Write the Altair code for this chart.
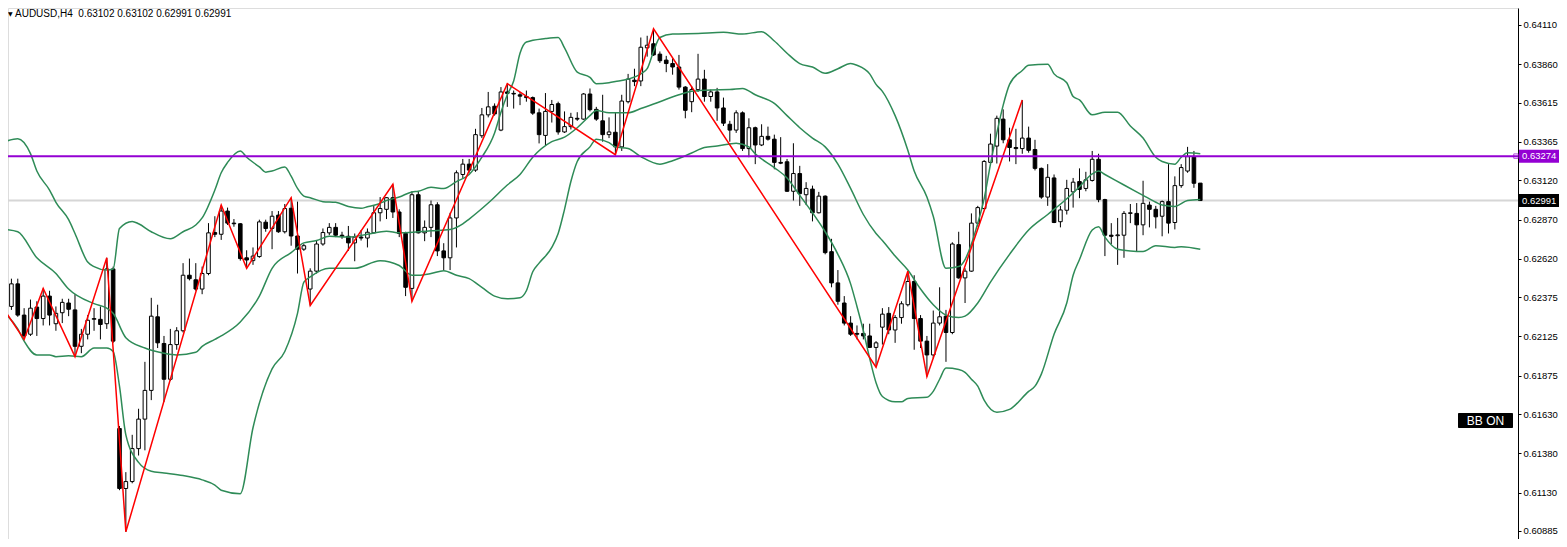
import altair as alt
import pandas as pd

# ---- AUDUSD H4 candles, prices in points (1e-5) ----
OPEN_PTS = [62466,62316,62460,62261,62139,62312,62239,62382,62206,62276,62338,62294,62062,62139,62234,62234,62206,62555,61538,61156,
61200,61410,61598,61781,62250,62080,61852,62073,62161,62515,62486,62427,62526,62787,62776,62924,62847,62843,62626,62608,
62634,62853,62813,62898,62792,62942,62765,62681,62427,62541,62714,62785,62820,62770,62763,62721,62758,62752,62785,62913,
62935,63009,62918,62781,62431,63028,62785,62820,62964,62670,62626,62880,63157,63223,63185,63404,63537,63592,63440,63683,
63674,63665,63654,63647,63550,63406,63559,63608,63428,63462,63515,63510,63670,63572,63499,63411,63426,63333,63621,63758,
63753,63964,63990,63924,63886,63864,63842,63714,63621,63698,63765,63654,63683,63581,63477,63440,63550,63322,63455,63345,
63400,63382,63234,63238,63050,63163,63028,63064,62913,63019,62665,62466,62338,62210,62144,62144,62128,62055,62184,62272,
62166,62245,62327,62475,62239,62095,62007,62210,62254,62150,62710,62498,62541,62847,62940,63234,63338,63510,63378,63329,
63322,63389,63316,63196,63013,63135,62856,62929,63046,63112,63068,63119,63254,62997,62770,62767,62770,62909,62909,62836,
62962,62935,62891,62984,62851,63086,63179,63267,63102]
HIGH_PTS = [62559,62493,62493,62305,62360,62349,62431,62416,62316,62365,62365,62394,62173,62261,62305,62316,62626,62570,61554,61260,
61498,61664,61963,62371,62327,62128,62173,62184,62592,62621,62592,62570,62847,62891,62962,62946,62873,62847,62674,62692,
62869,62869,62924,62924,62969,63009,62984,62714,62559,62736,62813,62847,62847,62792,62829,62781,62803,62813,62957,63013,
63013,63095,62935,62792,63050,63050,62864,62991,62980,62719,62913,63183,63256,63256,63448,63581,63683,63610,63714,63736,
63692,63683,63692,63654,63577,63676,63632,63621,63559,63550,63554,63676,63705,63588,63665,63521,63550,63665,63798,63831,
64030,64041,64085,63941,63913,63897,63919,63720,63720,63926,63824,63698,63709,63647,63499,63566,63559,63515,63462,63477,
63462,63411,63395,63256,63356,63212,63108,63086,63046,63024,62747,62548,62382,62254,62195,62206,62206,62095,62305,62312,
62261,62349,62541,62515,62261,62128,62290,62438,62294,62725,62792,62559,62909,62957,63249,63417,63532,63572,63455,63448,
63632,63462,63378,63201,63223,63157,62957,63123,63135,63196,63174,63307,63289,63002,62847,62880,62924,62969,62975,63117,
62984,62957,62991,63223,63145,63223,63333,63307,63102]
LOW_PTS = [62305,62294,62250,62106,62128,62128,62195,62195,62161,62210,62254,61996,62018,62106,62161,62106,62173,62084,61145,60880,
61189,61366,61399,61719,62051,61708,61841,62040,62150,62482,62416,62394,62515,62758,62740,62835,62824,62608,62559,62581,
62626,62792,62681,62785,62781,62703,62526,62670,62322,62526,62703,62770,62758,62747,62670,62604,62736,62692,62781,62858,
62873,62880,62758,62382,62349,62781,62732,62758,62637,62548,62548,62692,63135,63168,63174,63389,63521,63532,63433,63588,
63577,63599,63621,63537,63355,63345,63488,63411,63422,63444,63499,63506,63559,63499,63366,63389,63283,63307,63610,63720,
63720,63908,63913,63868,63809,63793,63698,63515,63554,63683,63621,63621,63499,63466,63366,63422,63307,63267,63223,63338,
63373,63190,63223,63046,62991,62957,62962,62858,62909,62648,62438,62327,62195,62128,62106,62106,62051,61929,62073,62139,
62084,62206,62316,62040,62051,61869,61985,62195,61963,62139,62493,62338,62537,62825,62935,63223,63227,63356,63240,63223,
63289,63296,63183,63002,62957,62847,62820,62902,62946,63006,63050,63112,62980,62637,62714,62581,62626,62847,62666,62770,
62820,62813,62763,62781,62807,63072,63168,63072,62991]
CLOSE_PTS = [62316,62460,62261,62128,62305,62239,62382,62261,62272,62342,62298,62062,62139,62228,62239,62201,62555,62095,61156,61200,
61410,61598,61781,62254,62084,61852,62073,62161,62515,62493,62427,62526,62785,62776,62924,62847,62843,62621,62612,62637,
62855,62813,62891,62792,62940,62765,62681,62703,62541,62714,62787,62820,62770,62763,62721,62758,62752,62789,62913,62940,
63009,62918,62781,62438,63028,62785,62820,62964,62670,62626,62880,63168,63223,63185,63411,63537,63588,63543,63683,63674,
63670,63656,63647,63548,63411,63559,63603,63428,63462,63521,63510,63670,63570,63510,63411,63428,63333,63625,63765,63749,
63968,63981,63919,63882,63864,63842,63714,63566,63698,63765,63654,63683,63581,63484,63440,63550,63322,63455,63345,63400,
63382,63234,63229,63050,63163,63035,63068,62913,63019,62659,62466,62349,62210,62139,62139,62128,62055,62084,62267,62166,
62245,62333,62475,62239,62095,62007,62210,62250,62150,62714,62498,62541,62847,62946,63240,63351,63515,63378,63329,63322,
63389,63311,63196,63013,63139,62851,62931,63068,63108,63062,63123,63254,62997,62770,62763,62772,62909,62913,62836,62973,
62935,62887,62984,62847,63086,63201,63271,63101,62991]

# ---- Bollinger bands (read at sample bars) ----
UPPER_BAR = [0,2,4,5,7,8,10,11,13,14,16,17,18,20,21,23,26,28,30,31,33,34,35,37,38,40,41,42,44,45,46,47,48,50,52,54,56,57,59,60,
62,64,65,67,69,71,73,75,77,78,79,80,81,82,85,87,88,90,92,93,95,96,98,100,101,102,103,105,109,113,116,119,121,123,125,127,129,131,133,134,
136,137,138,140,142,143,145,146,148,150,151,152,153,154,155,156,157,158,160,161,164,165,167,168,169,171,173,175,177,179,181,182,184,185,186,188]
UPPER_PTS = [63367,63385,63290,63179,63058,62980,62869,62781,62599,62570,62548,62555,62813,62858,62843,62792,62747,62792,62835,62880,
63058,63168,63234,63307,63267,63205,63172,63179,63205,63146,63068,63019,63009,62984,62980,62953,62942,62951,62973,62991,
63013,63046,63050,63075,63068,63112,63157,63267,63422,63554,63665,63753,63930,64001,64023,64030,63964,63809,63776,63736,
63742,63749,63765,63798,63831,63941,64030,64052,64056,64063,64052,64067,64008,63930,63864,63842,63802,63831,63864,63853,
63798,63731,63687,63532,63311,63179,63013,62891,62559,62570,62615,62714,62847,63002,63223,63422,63599,63731,63820,63853,
63860,63798,63742,63654,63632,63537,63554,63554,63466,63389,63267,63240,63223,63267,63296,63289]
MIDDLE_BAR = [0,2,5,8,10,14,16,17,19,22,25,27,30,31,33,34,37,40,42,45,47,49,51,54,57,60,62,65,67,70,72,73,76,79,81,83,86,88,90,92,
93,95,96,98,100,103,106,108,111,114,116,118,121,123,125,127,129,131,133,135,137,138,140,142,144,146,148,150,151,153,
155,158,161,164,167,169,171,172,173,176,179,181,182,184,186,188]
MIDDLE_PTS = [62807,62792,62626,62526,62427,62334,62305,62272,62117,62051,62018,62007,62024,62062,62106,62128,62217,62382,62559,62659,
62721,62736,62763,62758,62776,62796,62785,62792,62798,62807,62843,62873,62975,63090,63157,63267,63366,63395,63455,63532,
63565,63550,63550,63550,63577,63621,63665,63687,63696,63698,63705,63665,63610,63532,63455,63389,63333,63223,63068,62902,
62781,62736,62637,62548,62427,62327,62261,62245,62254,62338,62471,62648,62803,62902,63002,63079,63161,63179,63157,63090,
63024,62980,62962,62953,62991,62997]
LOWER_BAR = [0,2,3,5,7,8,10,12,14,16,17,18,19,21,23,25,28,31,33,34,37,39,42,44,46,47,48,51,55,59,62,64,65,67,69,71,73,75,77,79,
81,82,83,84,86,87,88,89,90,92,93,95,96,98,100,103,105,108,110,112,115,117,118,121,123,125,127,129,131,133,
134,135,136,137,138,140,141,142,145,146,147,148,150,151,152,153,154,156,158,161,162,163,165,167,168,169,171,172,173,175,
177,179,181,184,185,188]
LOWER_PTS = [62272,62173,62095,62007,62007,61996,62002,61996,62051,62051,62029,61808,61498,61322,61266,61255,61238,61211,61178,61145,
61123,61543,61918,62029,62272,62471,62504,62559,62559,62608,62577,62515,62515,62526,62544,62515,62493,62438,62382,62365,
62371,62416,62537,62592,62692,62781,62935,63112,63240,63333,63382,63360,63333,63322,63271,63223,63245,63294,63329,63338,
63356,63333,63289,63201,63135,63024,62913,62792,62648,62460,62316,62161,61985,61830,61742,61708,61708,61730,61737,61775,
61852,61923,61914,61896,61852,61808,61719,61642,61660,61775,61808,61885,62139,62338,62515,62615,62803,62824,62758,62681,
62670,62666,62703,62692,62697,62681]

# ---- ZigZag pivots ----
ZIGZAG_BAR = [0,3,6,11,16,19,34,38,45,48,61,64,79,96,102,137,142,145,160]
ZIGZAG_PTS = [62287,62106,62431,61996,62626,60880,62962,62559,63009,62322,63095,62349,63736,63283,64085,61929,62541,61869,63632]

# ---- levels and labels ----
TICK_VALUES = [0.64110,0.63860,0.63615,0.63365,0.63120,0.62870,0.62620,0.62375,0.62125,0.61875,0.61630,0.61380,0.61130,0.60885]
HLINE_LEVEL = 0.63274
BID_LEVEL = 0.62991
HEADER = "AUDUSD,H4\u00a0\u00a00.63102 0.63102 0.62991 0.62991"

PT = 1e5
n = len(OPEN_PTS)
candles = pd.DataFrame({
    "bar": list(range(n)),
    "open": [v / PT for v in OPEN_PTS],
    "high": [v / PT for v in HIGH_PTS],
    "low": [v / PT for v in LOW_PTS],
    "close": [v / PT for v in CLOSE_PTS],
})
candles["high"] = candles[["high", "open", "close"]].max(axis=1)
candles["low"] = candles[["low", "open", "close"]].min(axis=1)

bands = pd.concat([
    pd.DataFrame({"bar": UPPER_BAR, "price": [v / PT for v in UPPER_PTS], "band": "upper"}),
    pd.DataFrame({"bar": MIDDLE_BAR, "price": [v / PT for v in MIDDLE_PTS], "band": "middle"}),
    pd.DataFrame({"bar": LOWER_BAR, "price": [v / PT for v in LOWER_PTS], "band": "lower"}),
])
zig = pd.DataFrame({"bar": ZIGZAG_BAR, "price": [v / PT for v in ZIGZAG_PTS]})

W, H = 1510, 531
x_scale = alt.Scale(domain=[1.25, 237.1875], nice=False, zero=False)
y_scale = alt.Scale(domain=[0.60834, 0.64218], nice=False, zero=False)
FONT = "DejaVu Sans"
AXFONT = "Liberation Sans"

y_axis = alt.Axis(orient="right", values=TICK_VALUES, format=".5f", grid=False, title=None,
                  domain=True, domainColor="#000000", domainWidth=1,
                  ticks=True, tickColor="#000000", tickSize=3, tickWidth=1,
                  labelFont=AXFONT, labelFontSize=9.5, labelColor="#000000", labelPadding=2,
                  labelFlush=False, labelOverlap=False, labelBaseline="middle")


def Y(field):
    return alt.Y(field, scale=y_scale, axis=y_axis)


X = alt.X("bar:Q", scale=x_scale, axis=None)

bid_line = alt.Chart(pd.DataFrame({"price": [BID_LEVEL]})).mark_rule(
    color="#d6d6d6", strokeWidth=2).encode(y=Y("price:Q"))

wicks = alt.Chart(candles).mark_rule(color="#000000", strokeWidth=1, clip=True).encode(
    x=X, y=Y("low:Q"), y2="high:Q")

bodies = alt.Chart(candles).mark_bar(size=3.6, stroke="#000000", strokeWidth=1, clip=True).encode(
    x=X, y=Y("open:Q"), y2="close:Q",
    fill=alt.condition("datum.close >= datum.open", alt.value("#ffffff"), alt.value("#000000")))

band_lines = alt.Chart(bands).mark_line(color="#2e8b57", strokeWidth=1.5, clip=True,
                                        interpolate="monotone").encode(
    x=X, y=Y("price:Q"), detail="band:N", order="bar:Q")

zigzag = alt.Chart(zig).mark_line(color="#ff0000", strokeWidth=1.5, clip=True).encode(
    x=X, y=Y("price:Q"), order="bar:Q")

hline = alt.Chart(pd.DataFrame({"price": [HLINE_LEVEL]})).mark_rule(
    color="#9400d3", strokeWidth=2).encode(y=Y("price:Q"))

handle = alt.Chart(pd.DataFrame({"price": [HLINE_LEVEL]})).mark_square(
    size=20, color="#9400d3", filled=False, strokeWidth=1).encode(
    x=alt.value(W - 2), y=Y("price:Q"))

HALF = 6.5 / 15690
tags = pd.DataFrame({"price": [HLINE_LEVEL, BID_LEVEL],
                     "label": [f"{HLINE_LEVEL:.5f}", f"{BID_LEVEL:.5f}"],
                     "bg": ["#9400d3", "#000000"]})
tags["top"] = tags["price"] + HALF
tags["bottom"] = tags["price"] - HALF

tag_boxes = alt.Chart(tags).mark_rect().encode(
    x=alt.value(W + 1), x2=alt.value(W + 43),
    y=Y("top:Q"), y2="bottom:Q",
    fill=alt.Fill("bg:N", scale=None))
tag_text = alt.Chart(tags).mark_text(align="left", baseline="middle", font=AXFONT,
                                     fontSize=9.5, color="#ffffff").encode(
    x=alt.value(W + 4), y=Y("price:Q"), text="label:N")

bb_df = pd.DataFrame({"label": ["BB ON"]})
bb_box = alt.Chart(bb_df).mark_rect(color="#000000", cornerRadius=1).encode(
    x=alt.value(1450), x2=alt.value(1505), y=alt.value(405), y2=alt.value(420))
bb_text = alt.Chart(bb_df).mark_text(align="center", baseline="middle", font="Liberation Sans",
                                     fontSize=12, color="#ffffff").encode(
    x=alt.value(1477.5), y=alt.value(413), text="label:N")

hdr_df = pd.DataFrame({"label": [HEADER], "tri": ["\u25bc"]})
header = alt.Chart(hdr_df).mark_text(align="left", baseline="top", font=AXFONT, fontSize=10,
                                     color="#000000").encode(
    x=alt.value(7), y=alt.value(1), text="label:N")
tri = alt.Chart(hdr_df).mark_text(align="left", baseline="top", font=FONT, fontSize=6,
                                  color="#000000").encode(
    x=alt.value(0), y=alt.value(3), text="tri:N")

chart = alt.layer(
    bid_line, wicks, bodies, band_lines, zigzag, hline, handle,
    tag_boxes, tag_text, bb_box, bb_text, header, tri
).properties(
    width=W, height=H,
    padding={"left": 0, "right": 41, "top": 0, "bottom": 0},
    autosize=alt.AutoSizeParams(type="none"),
).configure_view(strokeWidth=0).configure(background="#ffffff")

chart.save("out.html", embed_options={"renderer": "svg", "actions": False})
